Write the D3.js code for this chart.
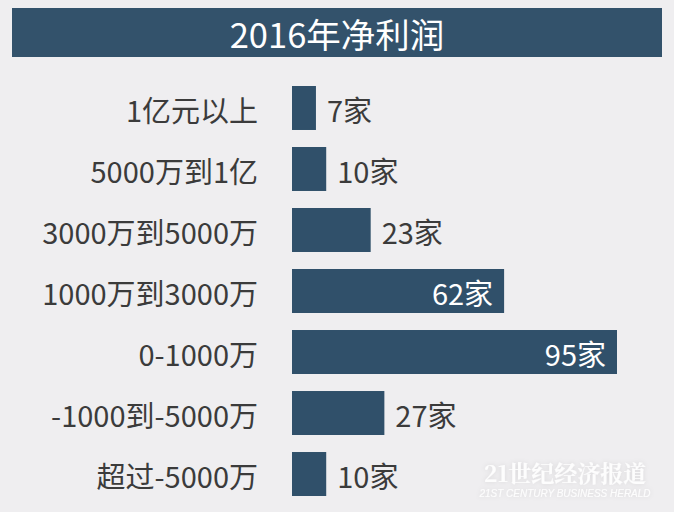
<!DOCTYPE html>
<html>
<head>
<meta charset="utf-8">
<script src="https://cdn.jsdelivr.net/npm/d3@7"></script>
<style>
html,body{margin:0;padding:0;background:#efeef0;}
svg{display:block;}
</style>
</head>
<body>
<svg id="chart" width="674" height="512"></svg>
<script>
const title = "2016年净利润";
const categories = ["1亿元以上","5000万到1亿","3000万到5000万","1000万到3000万","0-1000万","-1000到-5000万","超过-5000万"];
const values = [7,10,23,62,95,27,10];
const unit = "家";
const insideThreshold = 50;

const W = 674, H = 512;
const font = "'Noto Sans CJK SC','Noto Sans',sans-serif";
const barColor = "#30506a";
const svg = d3.select("#chart");

svg.append("rect").attr("width",W).attr("height",H).attr("fill","#efeef0");

// title bar
svg.append("rect").attr("x",12).attr("y",8).attr("width",650).attr("height",49).attr("fill","#33526b");
svg.append("text").attr("x",337).attr("y",33).attr("text-anchor","middle")
  .attr("dominant-baseline","central").attr("fill","#ffffff")
  .attr("font-family",font).attr("font-size",34.5).text(title);

const x = d3.scaleLinear().domain([0,95]).range([292,617]);
const y = d3.scaleBand().domain(categories).range([86,496]).paddingInner(0.279).paddingOuter(0);

const data = categories.map((c,i)=>({c, v:values[i]}));

const g = svg.append("g");
g.selectAll("rect.bar").data(data).join("rect").attr("class","bar")
  .attr("x",x(0)).attr("y",d=>y(d.c)).attr("width",d=>x(d.v)-x(0)).attr("height",y.bandwidth())
  .attr("fill",barColor);

// category labels
g.selectAll("text.cat").data(data).join("text").attr("class","cat")
  .attr("x",258).attr("y",d=>y(d.c)+y.bandwidth()/2+1)
  .attr("text-anchor","end").attr("dominant-baseline","central")
  .attr("font-family",font).attr("font-size",29).attr("fill","#3b3b3b")
  .text(d=>d.c);

// value labels
g.selectAll("text.val").data(data).join("text").attr("class","val")
  .attr("x",d=> d.v>insideThreshold ? x(d.v)-11 : x(d.v)+11)
  .attr("y",d=>y(d.c)+y.bandwidth()/2+1)
  .attr("text-anchor",d=> d.v>insideThreshold ? "end" : "start")
  .attr("dominant-baseline","central")
  .attr("font-family",font).attr("font-size",29)
  .attr("fill",d=> d.v>insideThreshold ? "#ffffff" : "#3b3b3b")
  .text(d=>d.v+unit);

// watermark
const defs = svg.append("defs");
const f = defs.append("filter").attr("id","sh").attr("x","-20%").attr("y","-40%").attr("width","140%").attr("height","180%");
f.append("feDropShadow").attr("dx",0).attr("dy",0).attr("stdDeviation",2.5).attr("flood-color","#000").attr("flood-opacity",0.12);
const wm = svg.append("g").attr("filter","url(#sh)");
wm.append("text").attr("x",565).attr("y",482).attr("text-anchor","middle")
  .attr("font-family","'Noto Serif CJK SC','Noto Sans CJK SC',serif").attr("font-weight","bold")
  .attr("font-size",23).attr("fill","#ffffff").attr("fill-opacity",0.9).text("21世纪经济报道");
wm.append("text").attr("x",565).attr("y",497).attr("text-anchor","middle")
  .attr("font-family","'Liberation Sans Narrow','Liberation Sans',sans-serif").attr("font-style","italic")
  .attr("font-size",10).attr("fill","#ffffff").attr("fill-opacity",0.9).text("21ST CENTURY BUSINESS HERALD");
</script>
</body>
</html>
